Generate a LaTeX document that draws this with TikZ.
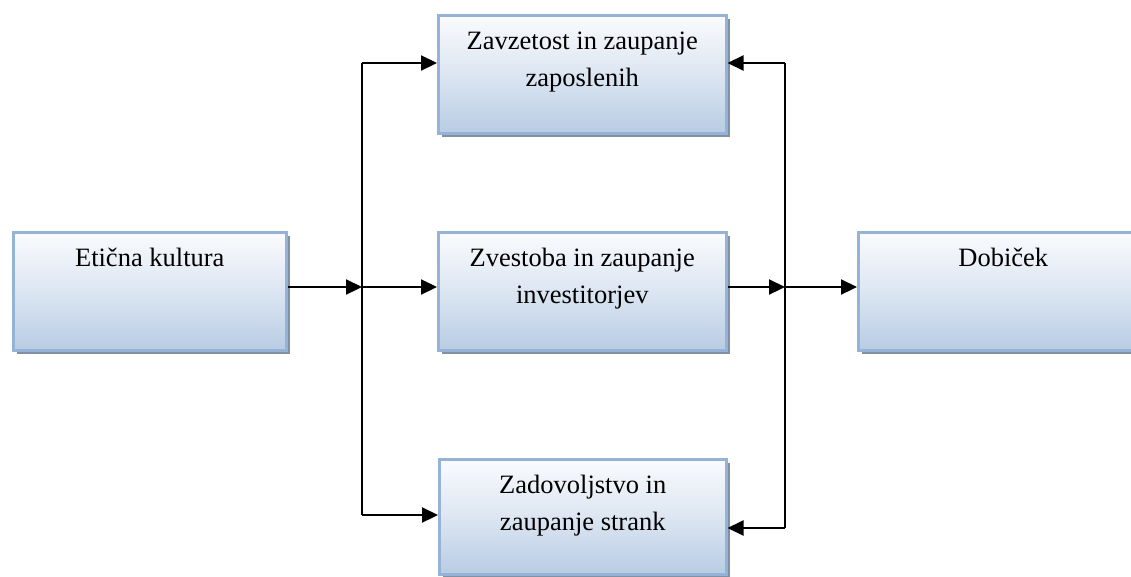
\documentclass[tikz,border=0pt]{standalone}
\usepackage{fontspec}
\setmainfont{Liberation Serif}
\usetikzlibrary{arrows.meta,shadows,calc}

\definecolor{boxtop}{RGB}{250,251,253}
\definecolor{boxbot}{RGB}{184,204,228}
\definecolor{boxline}{RGB}{149,179,215}
\definecolor{boxshade}{RGB}{130,144,164}

\tikzset{
  box/.style={rectangle, anchor=north west, inner sep=0pt,
    minimum width=#1, minimum height=118pt,
    draw=boxline, line width=2.5pt,
    top color=boxtop, bottom color=boxbot, middle color=boxtop!55!boxbot,
    general shadow={shadow xshift=4pt, shadow yshift=-4pt, fill=boxshade}},
  box/.default=288pt,
  lbl/.style={anchor=north, inner sep=0pt, align=center,
    font=\fontsize{26.5}{37}\selectfont},
  conn/.style={line width=2.2pt, -{Triangle[length=16pt,width=15pt]}},
  rail/.style={line width=2.2pt}
}

\begin{document}
\begin{tikzpicture}[x=1pt,y=-1pt]
  \useasboundingbox (0,0) rectangle (1131,576);
  \clip (0,0) rectangle (1131,576);

  % boxes
  \node[box=273pt] (etika) at (12,231) {};
  \node[box] (zap) at (437,14) {};
  \node[box] (inv) at (437,231) {};
  \node[box=287pt, minimum height=115pt] (str) at (438,458) {};
  \node[box=290pt] (dob) at (857,231) {};

  % texts
  \node[lbl] (t1) at ($(etika.north)+(0,17)$) {Etična kultura};
  \node[lbl] (t2) at ($(zap.north)+(0,18)$) {Zavzetost in zaupanje\\zaposlenih};
  \node[lbl] (t3) at ($(inv.north)+(0,17)$) {Zvestoba in zaupanje\\investitorjev};
  \node[lbl] (t4) at ($(str.north)+(0,17)$) {Zadovoljstvo in\\zaupanje strank};
  \node[lbl] (t5) at ($(dob.north)+(0,17)$) {Dobiček};

  % branching points
  \coordinate (jl)  at (362,287);
  \coordinate (jlt) at (362,63);
  \coordinate (jlb) at (362,515);
  \coordinate (jr)  at (785,287);
  \coordinate (jrt) at (785,63);
  \coordinate (jrb) at (785,528);

  % left distribution
  \draw[rail] (jlt) -- (jlb);
  \draw[conn] (etika.east |- jl) -- (jl);
  \draw[conn] (jlt) -- (jlt -| zap.west);
  \draw[conn] (jl) -- (jl -| inv.west);
  \draw[conn] (jlb) -- (jlb -| str.west);

  % right collection
  \draw[rail] (jrt) -- (jrb);
  \draw[conn] (inv.east |- jr) -- (jr);
  \draw[conn] (jr) -- (jr -| dob.west);
  \draw[conn] (jrt) -- (jrt -| zap.east);
  \draw[conn] (jrb) -- (jrb -| str.east);
\end{tikzpicture}
\end{document}
